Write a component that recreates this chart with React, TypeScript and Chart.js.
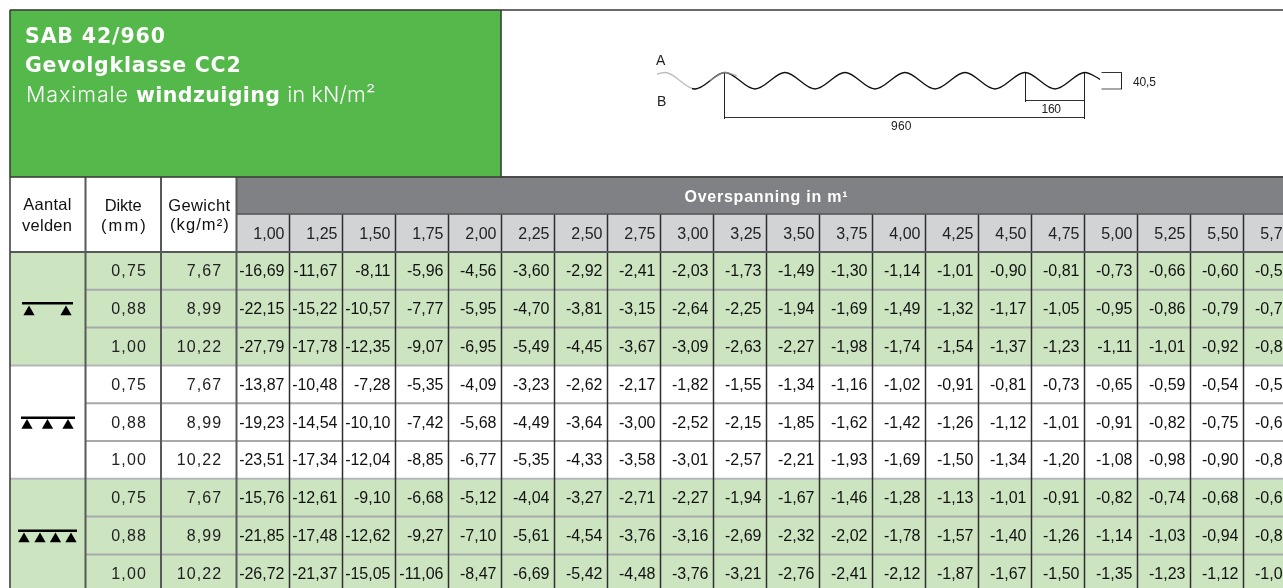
import React, { useEffect, useRef } from "react";
import { Chart, registerables } from "chart.js";

Chart.register(...registerables);

/* ---------- data ---------- */
const spans = [1, 1.25, 1.5, 1.75, 2, 2.25, 2.5, 2.75, 3, 3.25, 3.5, 3.75, 4, 4.25, 4.5, 4.75, 5, 5.25, 5.5, 5.75];
const thicknesses = [0.75, 0.88, 1.0, 0.75, 0.88, 1.0, 0.75, 0.88, 1.0];
const weights = [7.67, 8.99, 10.22, 7.67, 8.99, 10.22, 7.67, 8.99, 10.22];

const twoSupports075 = [-16.69, -11.67, -8.11, -5.96, -4.56, -3.6, -2.92, -2.41, -2.03, -1.73, -1.49, -1.3, -1.14, -1.01, -0.9, -0.81, -0.73, -0.66, -0.6, -0.55];
const twoSupports088 = [-22.15, -15.22, -10.57, -7.77, -5.95, -4.7, -3.81, -3.15, -2.64, -2.25, -1.94, -1.69, -1.49, -1.32, -1.17, -1.05, -0.95, -0.86, -0.79, -0.72];
const twoSupports100 = [-27.79, -17.78, -12.35, -9.07, -6.95, -5.49, -4.45, -3.67, -3.09, -2.63, -2.27, -1.98, -1.74, -1.54, -1.37, -1.23, -1.11, -1.01, -0.92, -0.84];
const threeSupports075 = [-13.87, -10.48, -7.28, -5.35, -4.09, -3.23, -2.62, -2.17, -1.82, -1.55, -1.34, -1.16, -1.02, -0.91, -0.81, -0.73, -0.65, -0.59, -0.54, -0.5];
const threeSupports088 = [-19.23, -14.54, -10.1, -7.42, -5.68, -4.49, -3.64, -3.0, -2.52, -2.15, -1.85, -1.62, -1.42, -1.26, -1.12, -1.01, -0.91, -0.82, -0.75, -0.69];
const threeSupports100 = [-23.51, -17.34, -12.04, -8.85, -6.77, -5.35, -4.33, -3.58, -3.01, -2.57, -2.21, -1.93, -1.69, -1.5, -1.34, -1.2, -1.08, -0.98, -0.9, -0.82];
const fourSupports075 = [-15.76, -12.61, -9.1, -6.68, -5.12, -4.04, -3.27, -2.71, -2.27, -1.94, -1.67, -1.46, -1.28, -1.13, -1.01, -0.91, -0.82, -0.74, -0.68, -0.62];
const fourSupports088 = [-21.85, -17.48, -12.62, -9.27, -7.1, -5.61, -4.54, -3.76, -3.16, -2.69, -2.32, -2.02, -1.78, -1.57, -1.4, -1.26, -1.14, -1.03, -0.94, -0.86];
const fourSupports100 = [-26.72, -21.37, -15.05, -11.06, -8.47, -6.69, -5.42, -4.48, -3.76, -3.21, -2.76, -2.41, -2.12, -1.87, -1.67, -1.5, -1.35, -1.23, -1.12, -1.03];
const rows = [
  twoSupports075, twoSupports088, twoSupports100,
  threeSupports075, threeSupports088, threeSupports100,
  fourSupports075, fourSupports088, fourSupports100,
];

/* ---------- layout: x is metres of span, y is table rows; the page maps onto them ---------- */
const W = 1283;
const H = 588;
const COL_W = 53;
const ROW_H = 37.8;
const X = (px: number) => 1 + ((px - 263) / COL_W) * 0.25;
const Y = (px: number) => (px - 252) / ROW_H;
const comma = (v: number) => v.toFixed(2).replace(".", ",");

const R = 10;
const EDGE_A = 85.5;
const EDGE_B = 161;
const EDGE_C = 236.5;
const FONT = '"Liberation Sans", Arial, sans-serif';
const NARROW = '"Liberation Sans Narrow", "Liberation Sans", Arial, sans-serif';

type Seg = [number, number, number, number];
const lineData = (segs: Seg[]) => {
  const out: any[] = [];
  segs.forEach(([a, b, c, d]) => {
    out.push({ x: X(a), y: Y(b) }, { x: X(c), y: Y(d) }, { x: X(c), y: null });
  });
  return out;
};
const lineSet = (segs: Seg[], color: string, width: number, order: number) => ({
  type: "line",
  data: lineData(segs),
  borderColor: color,
  borderWidth: width,
  pointRadius: 0,
  spanGaps: false,
  tension: 0,
  order,
});
const barSet = (data: any[], color: string, thickness: number, order: number) => ({
  type: "bar",
  data,
  backgroundColor: color,
  barThickness: thickness,
  grouped: false,
  borderWidth: 0,
  order,
});
const textSet = (data: any[], style: any) => ({
  type: "scatter",
  data,
  pointRadius: 0,
  textStyle: style,
  order: 0,
});
// A label placed by its left edge and baseline, stretched to the width it has in the reference.
const fitted = (text: string, left: number, baseline: number, fit: number) => ({ x: X(left), y: Y(baseline), text, fit });
const supportSet = (xsPx: number[], yPx: number) => ({
  type: "scatter",
  data: xsPx.map((p) => ({ x: X(p), y: Y(yPx) })),
  pointStyle: "triangle",
  pointRadius: 6.5,
  backgroundColor: "#000",
  borderColor: "#000",
  borderWidth: 0,
  order: 1,
});

const greenRows = [0, 1, 2, 6, 7, 8];
const bottom = Y(H);
const rowLineY = (r: number) => 252 + r * ROW_H;

const textPlugin = {
  id: "cellText",
  afterDatasetsDraw(chart: any) {
    const ctx = chart.ctx;
    chart.data.datasets.forEach((ds: any, i: number) => {
      if (!ds.textStyle) return;
      const s = ds.textStyle;
      ctx.save();
      ctx.font = s.font;
      ctx.fillStyle = s.color;
      ctx.textAlign = s.align || "left";
      ctx.textBaseline = s.baseline || "middle";
      chart.getDatasetMeta(i).data.forEach((el: any, j: number) => {
        const item = ds.data[j];
        if (item.fit) {
          ctx.letterSpacing = "0px";
          const natural = ctx.measureText(item.text).width;
          ctx.letterSpacing = `${(item.fit - natural) / Math.max(1, item.text.length - 1)}px`;
        } else {
          ctx.letterSpacing = s.spacing || "0px";
        }
        ctx.fillText(item.text, el.x + (s.dx || 0), el.y + (s.dy || 0));
      });
      ctx.restore();
    });
  },
};

const buildDatasets = () => {
  const valueCells: any[] = [];
  const valueTexts: any[] = [];
  rows.forEach((row, r) => {
    row.forEach((v, c) => {
      if (greenRows.includes(r)) valueCells.push({ x: spans[c], y: [r, r + 1] });
      valueTexts.push({ x: spans[c], y: r + 0.5, text: comma(v) });
    });
  });

  const horizontals: Seg[] = [1, 2, 4, 5, 7, 8].map((r) => [EDGE_A, rowLineY(r), W, rowLineY(r)] as Seg);
  const groupLines: Seg[] = [3, 6].map((r) => [R, rowLineY(r), W, rowLineY(r)] as Seg);
  const valueVerticals: Seg[] = spans.slice(0, 19).map((s) => {
    const px = 263 + ((s - 1) / 0.25) * COL_W + COL_W / 2;
    return [px, 214, px, H] as Seg;
  });

  const waveX = [692, 695, 725, 755, 785, 815, 845, 875, 905, 935, 965, 995, 1025, 1055, 1085, 1097, 1100];
  const waveY = [88.6, 89, 72.5, 89, 72.5, 89, 72.5, 89, 72.5, 89, 72.5, 89, 72.5, 89, 72.5, 77.5, 79.5];

  return [
    // fills
    barSet([{ x: X((R + 501) / 2), y: [Y(10), Y(177)] }], "#55b84b", 491, 9),
    barSet([{ x: X((EDGE_C + W) / 2), y: [-2, -1] }], "#808184", W - EDGE_C, 9),
    barSet(spans.map((s) => ({ x: s, y: [-1, 0] })), "#d1d3d4", COL_W, 9),
    barSet([0, 6].map((r) => ({ x: X((R + EDGE_C) / 2), y: [r, r + 3] })), "#cce4c0", EDGE_C - R, 9),
    barSet(valueCells, "#cce4c0", COL_W, 9),
    // rules
    lineSet(horizontals, "#a7a9ac", 2, 8),
    lineSet(groupLines, "#b4b6b8", 2, 8),
    lineSet(valueVerticals, "#2e2e2e", 1.5, 7),
    lineSet([[EDGE_A, 177, EDGE_A, H], [EDGE_B, 177, EDGE_B, H], [EDGE_C, 177, EDGE_C, H]], "#58595b", 2, 6),
    lineSet([[EDGE_C, 214, W, 214]], "#58595b", 1.5, 6),
    lineSet([[R, 252, W, 252]], "#58595b", 2, 6),
    lineSet(
      [[R, 10, W, 10], [R, 177, W, 177], [R, 10, R, H], [501, 10, 501, 177]],
      "#3a3a3a", 1.5, 5
    ),
    // support symbols
    lineSet([[22, 303.3, 73, 303.3], [21, 417.7, 75, 417.7], [18, 530.7, 77, 530.7]], "#000", 2.6, 2),
    supportSet([29, 66], 312),
    supportSet([27, 47.5, 68], 425.5),
    supportSet([24, 40, 55.5, 71], 539),
    // profile drawing
    {
      type: "line",
      data: waveX.map((p, i) => ({ x: X(p), y: Y(waveY[i]) })),
      borderColor: "#111",
      borderWidth: 1.3,
      pointRadius: 0,
      cubicInterpolationMode: "monotone",
      order: 3,
    },
    {
      type: "line",
      data: [[657, 74], [665, 72.5], [695, 89], [698, 88.6]].map(([a, b]) => ({ x: X(a), y: Y(b) })),
      borderColor: "#bdbdbd",
      borderWidth: 1.3,
      pointRadius: 0,
      cubicInterpolationMode: "monotone",
      order: 4,
    },
    {
      type: "line",
      data: [[710, 80.5], [725, 72.5], [737, 75.8]].map(([a, b]) => ({ x: X(a), y: Y(b) })),
      borderColor: "rgba(170,170,170,0.7)",
      borderWidth: 1.4,
      pointRadius: 0,
      cubicInterpolationMode: "monotone",
      order: 2,
    },
    lineSet(
      [
        [724.5, 72.5, 724.5, 119], [1084.5, 72.5, 1084.5, 119], [1025.5, 72.5, 1025.5, 102],
        [1121.5, 73, 1121.5, 89],
      ],
      "#222", 1, 4
    ),
    lineSet([[724.5, 117.5, 1084.5, 117.5], [1025.5, 100.5, 1084.5, 100.5], [1101.5, 72.5, 1122, 72.5]], "#333", 1, 4),
    lineSet([[1101.5, 89, 1122, 89]], "#777", 1.3, 4),
    // texts
    textSet(valueTexts, { font: `16px ${FONT}`, color: "#111", align: "right", dx: 21.5, dy: 1 }),
    textSet(spans.map((s) => ({ x: s, y: -0.5, text: comma(s) })), { font: `16px ${FONT}`, color: "#222", align: "right", dx: 21.5, dy: 1 }),
    textSet(thicknesses.map((v, r) => ({ x: X(147.2), y: r + 0.5, text: comma(v) })), { font: `16px ${FONT}`, color: "#222", align: "right", spacing: "1.2px", dy: 1 }),
    textSet(weights.map((v, r) => ({ x: X(222.2), y: r + 0.5, text: comma(v) })), { font: `16px ${FONT}`, color: "#222", align: "right", spacing: "1.1px", dy: 1 }),
    textSet(
      [
        fitted("Aantal", 23.3, 210, 48),
        fitted("velden", 22, 231, 50),
        fitted("Dikte", 104.7, 211, 37),
        fitted("(mm)", 101, 230.5, 44.7),
        fitted("Gewicht", 168.3, 211, 61.7),
        fitted("(kg/m²)", 170, 230, 58.7),
      ],
      { font: `16.5px ${FONT}`, color: "#111", baseline: "alphabetic" }
    ),
    textSet([fitted("Overspanning in m¹", 684.5, 201.7, 163)], { font: `bold 16px ${FONT}`, color: "#fff", baseline: "alphabetic" }),
    textSet(
      [
        fitted("SAB 42/960", 25, 42.7, 140),
        fitted("Gevolgklasse CC2", 25, 71.7, 215.7),
        fitted("windzuiging", 136, 102, 144),
      ],
      { font: `bold 20.5px "DejaVu Sans", ${FONT}`, color: "#fff", baseline: "alphabetic" }
    ),
    textSet(
      [fitted("Maximale", 26, 102, 102), fitted("in kN/m²", 287.3, 102, 88)],
      { font: `300 21.5px Inter, ${FONT}`, color: "#fff", baseline: "alphabetic" }
    ),
    textSet(
      [fitted("A", 656, 65, 9), fitted("B", 657, 106, 7.5)],
      { font: `14px ${NARROW}`, color: "#222", baseline: "alphabetic" }
    ),
    textSet(
      [fitted("160", 1041.5, 113.3, 19.5), fitted("960", 891, 130.3, 20.5), fitted("40,5", 1133, 86, 23)],
      { font: `12px ${NARROW}`, color: "#222", baseline: "alphabetic" }
    ),
  ];
};

export default function App() {
  const ref = useRef<HTMLCanvasElement | null>(null);
  useEffect(() => {
    document.body.style.margin = "0";
    const chart = new Chart(ref.current as HTMLCanvasElement, {
      type: "bar",
      data: { datasets: buildDatasets() as any },
      options: {
        animation: false,
        responsive: false,
        devicePixelRatio: 1,
        events: [],
        layout: { padding: 0, autoPadding: false },
        plugins: { legend: { display: false }, tooltip: { enabled: false }, title: { display: false } },
        scales: {
          x: { type: "linear", display: false, offset: false, min: X(0), max: X(W), grid: { offset: false } },
          y: { type: "linear", display: false, reverse: true, min: Y(0), max: bottom, beginAtZero: false },
        },
      } as any,
      plugins: [textPlugin as any],
    });
    return () => chart.destroy();
  }, []);
  return <canvas ref={ref} width={W} height={H} style={{ display: "block", width: W, height: H }} />;
}
